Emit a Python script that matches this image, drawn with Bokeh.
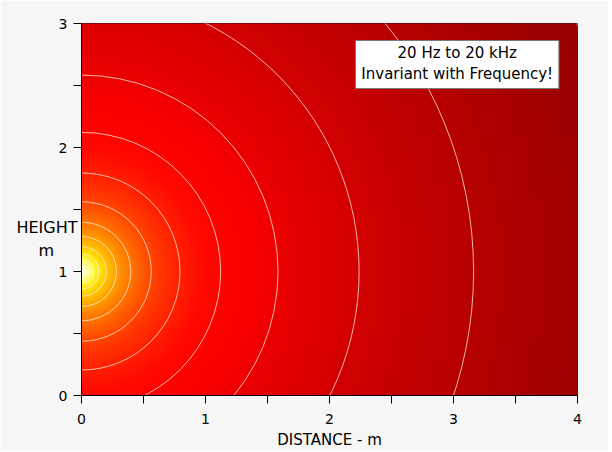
import numpy as np
from bokeh.plotting import figure
from bokeh.models import LinearColorMapper, FixedTicker, LinearAxis
from bokeh.embed import file_html
from bokeh.resources import INLINE
from bokeh.core.properties import value

# ---- data ----
source_x = 0.0          # point source position (m)
source_y = 1.0
x_range = [0.0, 4.0]
y_range = [0.0, 3.0]
contour_levels_db = [-13, -10, -7, -4, -1, 2, 5, 8, 11, 14, 17, 20, 23]   # level re 1 m (dB)
x_ticks = [0, 1, 2, 3, 4]
x_minor = [0.5, 1.5, 2.5, 3.5]
y_ticks = [0, 1, 2, 3]
y_minor = [0.5, 1.5, 2.5]
note_lines = ["20 Hz to 20 kHz", "Invariant with Frequency!"]
x_title = "DISTANCE - m"
y_title = "HEIGHT\nm" + "\u00a0" * 4 + "\u2009"
y_title_pos = 1.26

FONT = "DejaVu Sans"

# ---- field: inverse-square level around the source ----
nx, ny = 480, 360
gx = np.linspace(x_range[0], x_range[1], nx)
gy = np.linspace(y_range[0], y_range[1], ny)
X, Y = np.meshgrid(gx, gy)
R = np.sqrt((X - source_x) ** 2 + (Y - source_y) ** 2)
R = np.maximum(R, 0.02)
field = -20 * np.log10(R)

anchors = [(-13, "#980000"), (-10, "#b80000"), (-6, "#dc0000"), (-3, "#f60000"),
           (0, "#ff0800"), (4, "#ff3800"), (8, "#ff7400"), (12, "#ffac00"),
           (16, "#ffdc00"), (21, "#ffff50"), (30, "#ffffd8")]
def hex2rgb(h):
    return [int(h[i:i + 2], 16) for i in (1, 3, 5)]
lo, hi = anchors[0][0], anchors[-1][0]
palette = []
for v in np.linspace(lo, hi, 256):
    for (a, ca), (b, cb) in zip(anchors[:-1], anchors[1:]):
        if a <= v <= b:
            t = (v - a) / (b - a)
            c1, c2 = hex2rgb(ca), hex2rgb(cb)
            rgb = [round(c1[k] + (c2[k] - c1[k]) * t) for k in range(3)]
            palette.append("#%02x%02x%02x" % tuple(rgb))
            break
mapper = LinearColorMapper(palette=palette, low=lo, high=hi)

p = figure(output_backend="svg", toolbar_location=None,
           x_range=tuple(x_range), y_range=tuple(y_range),
           frame_width=496, frame_height=372,
           min_border_left=81, min_border_right=31,
           min_border_top=23, min_border_bottom=56)
p.background_fill_color = "#f6f6f6"
p.border_fill_color = "#f6f6f6"
p.outline_line_color = "#601010"
p.grid.visible = False

p.image(image=[field], x=x_range[0], y=y_range[0],
        dw=x_range[1] - x_range[0], dh=y_range[1] - y_range[0], color_mapper=mapper)

radii = [10 ** (-L / 20.0) for L in contour_levels_db]
p.circle(x=[source_x] * len(radii), y=[source_y] * len(radii), radius=radii,
         fill_color=None, line_color="#fff0e0", line_alpha=0.75, line_width=1)

p.quad(left=[2.21], right=[3.85], bottom=[2.476], top=[2.863],
       fill_color="white", line_color="#7a7a7a", line_width=1)
p.text(x=[3.03, 3.03], y=[2.766, 2.589], text=note_lines,
       text_align="center", text_baseline="middle",
       text_font=value(FONT), text_font_size="15px", text_color="black")

for ax in (p.xaxis[0], p.yaxis[0]):
    ax.axis_line_color = "black"
    ax.major_tick_line_color = "black"
    ax.minor_tick_line_color = "black"
    ax.major_tick_out = 8
    ax.major_tick_in = 0
    ax.minor_tick_out = 8
    ax.minor_tick_in = 0
    ax.major_label_text_font = FONT
    ax.major_label_text_font_size = "14px"
    ax.major_label_text_color = "black"

p.xaxis.ticker = FixedTicker(ticks=x_ticks, minor_ticks=x_minor)
p.yaxis.ticker = FixedTicker(ticks=y_ticks, minor_ticks=y_minor)
p.xaxis.major_label_standoff = 10
p.yaxis.major_label_standoff = 6
p.xaxis.axis_label = x_title
p.xaxis.axis_label_text_font = FONT
p.xaxis.axis_label_text_font_style = "normal"
p.xaxis.axis_label_text_font_size = "15px"
p.xaxis.axis_label_text_color = "black"
p.xaxis.axis_label_standoff = 4

# horizontal "HEIGHT / m" title, placed as a tick label of a bare extra axis
ytitle_axis = LinearAxis(ticker=FixedTicker(ticks=[y_title_pos], minor_ticks=[]),
                         major_label_overrides={y_title_pos: y_title},
                         axis_line_color=None, major_tick_line_color=None,
                         minor_tick_line_color=None,
                         major_label_standoff=-28,
                         major_label_text_font=FONT,
                         major_label_text_font_size="16px",
                         major_label_text_color="black")
p.add_layout(ytitle_axis, "left")

open("out.html", "w").write(file_html(p, INLINE))
